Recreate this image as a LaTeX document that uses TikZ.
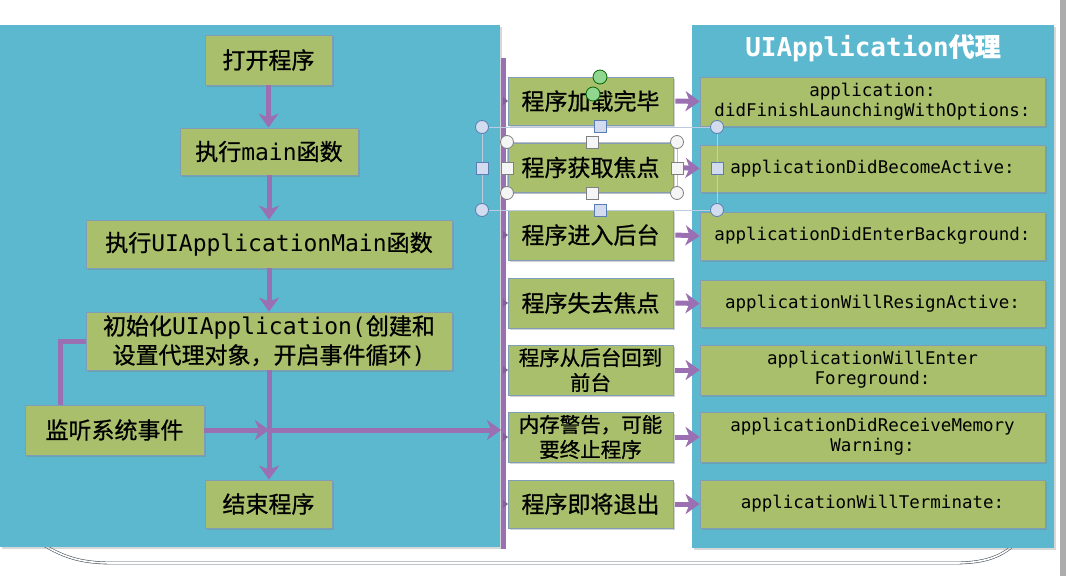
\documentclass[tikz,border=0pt]{standalone}
\usepackage{fontspec}
\setmainfont{DejaVu Sans Mono}
\newfontfamily\cjk{Noto Sans CJK SC}[FakeBold=0.8]
\usetikzlibrary{arrows.meta,shadows}
\definecolor{panel}{HTML}{5BB8CE}
\definecolor{boxg}{HTML}{A9BF6B}
\definecolor{boxedge}{HTML}{7F9DB8}
\definecolor{arr}{HTML}{9A70B2}
\definecolor{curlc}{HTML}{4A5560}
\definecolor{hblue}{HTML}{5A7DB5}
\definecolor{hfill}{HTML}{D3DCEF}
\tikzset{
  panelbox/.style={fill=panel, draw=none, drop shadow={shadow xshift=1.5pt, shadow yshift=-1.5pt, opacity=0.3}},
  gbox/.style={fill=boxg, draw=boxedge, line width=0.8pt, inner sep=2pt, align=center,
     drop shadow={shadow xshift=1.5pt, shadow yshift=-2pt, opacity=0.35}},
  lbox/.style={gbox, font=\fontsize{23}{29}\selectfont},
  mbox/.style={gbox, minimum width=165pt, font=\fontsize{23}{25}\selectfont\cjk},
  mbox2/.style={gbox, minimum width=165pt, font=\fontsize{20.5}{25}\selectfont\cjk},
  rbox/.style={gbox, minimum width=345pt, font=\fontsize{17.5}{20}\selectfont},
  arrline/.style={draw=arr, line width=5pt},
  arrow/.style={arrline, -{Stealth[length=14pt,width=20pt,inset=4pt]}},
  curl/.style={draw=curlc, line width=0.6pt, double=white, double distance=1.6pt},
  hcirc/.style={circle, fill=hfill, draw=hblue, line width=0.8pt, minimum size=13pt, inner sep=0pt},
  hsq/.style={rectangle, fill=hfill, draw=hblue, line width=0.8pt, minimum size=12pt, inner sep=0pt},
  wcirc/.style={circle, fill=white!92!gray, draw=gray, line width=0.8pt, minimum size=13pt, inner sep=0pt},
  wsq/.style={rectangle, fill=white!92!gray, draw=gray, line width=0.8pt, minimum size=12pt, inner sep=0pt},
  gcirc/.style={circle, fill=green!45!gray!60, draw=green!40!black, line width=0.8pt, minimum size=14pt, inner sep=0pt},
}
\begin{document}
\begin{tikzpicture}[x=1pt,y=-1pt]
\useasboundingbox (0,0) rectangle (1066,576);
\fill[white] (0,0) rectangle (1066,576);
% page decorations
\draw[curl] (15,0) -- (15,25);
\draw[curl] (1043,0) -- (1043,25);
\fill[gray!65] (1060,0) rectangle (1066,576);
\draw[curl] (40,543) .. controls (62,556) and (78,563) .. (112,563) -- (955,563) .. controls (988,563) and (1002,555) .. (1014,545);
% panels
\path[panelbox] (0,25) rectangle (500,547);
\path[panelbox] (692,25) rectangle (1054,548);
\node[text=white, font=\fontsize{26}{28}\selectfont\bfseries] (title) at (873,48) {UIApplication{\cjk 代理}};
% left flow
\node[lbox, minimum width=127pt, minimum height=50pt] (open) at (268.5,60) {\cjk 打开程序};
\node[lbox, minimum width=178pt, minimum height=47pt] (mainf) at (269,151.5) {{\cjk 执行}main{\cjk 函数}};
\node[lbox, minimum width=366pt, minimum height=48pt] (uimain) at (269,244) {{\cjk 执行}UIApplicationMain{\cjk 函数}};
\node[lbox, minimum width=366pt, minimum height=58pt] (init) at (269,341) {{\cjk 初始化}UIApplication({\cjk 创建和}\\{\cjk 设置代理对象，开启事件循环})};
\node[lbox, minimum width=179pt, minimum height=50pt] (listen) at (114.5,430) {\cjk 监听系统事件};
\node[lbox, minimum width=127pt, minimum height=48pt] (endp) at (268.5,504) {\cjk 结束程序};
\coordinate (cross) at (init.south |- listen.east);
\coordinate (barhit) at (501,430);
\coordinate (lup) at (60,405);
\coordinate (bartop) at (503,58);
\coordinate (barbot) at (503,549);
\draw[arrow] (open.south) -- (open.south |- mainf.north);
\draw[arrow] (mainf.south) -- (mainf.south |- uimain.north);
\draw[arrow] (uimain.south) -- (uimain.south |- init.north);
\draw[arrow] (init.south) -- (init.south |- endp.north);
\draw[arrline] (lup) |- (init.west);
\draw[arrow] (listen.east) -- (cross);
\draw[arrow] (cross) -- (barhit);
\draw[arrline] (bartop) -- (barbot);
% middle column
\node[mbox, minimum height=48pt] (m1) at (590.5,101) {程序加载完毕};
\node[mbox, minimum height=49pt] (m2) at (590.5,167.5) {程序获取焦点};
\node[mbox, minimum height=50pt] (m3) at (590.5,235) {程序进入后台};
\node[mbox, minimum height=50pt] (m4) at (590.5,303) {程序失去焦点};
\node[mbox2, minimum height=50pt] (m5) at (590.5,370) {程序从后台回到\\前台};
\node[mbox2, minimum height=50pt] (m6) at (590.5,437) {内存警告，可能\\要终止程序};
\node[mbox, minimum height=48pt] (m7) at (590.5,504) {程序即将退出};
\foreach \m in {m1,m2,m3,m4,m5,m6,m7}{
  \fill[arr!85!black] (bartop |- \m.west) ++(0,-4) -- ++(5,4) -- ++(-5,4) -- cycle;
}
% right column
\node[rbox, minimum height=49pt] (r1) at (872.5,101.5) {application:\\didFinishLaunchingWithOptions:};
\node[rbox, minimum height=47pt] (r2) at (872.5,168.5) {applicationDidBecomeActive:};
\node[rbox, minimum height=48pt] (r3) at (872.5,236) {applicationDidEnterBackground:};
\node[rbox, minimum height=47pt] (r4) at (872.5,303.5) {applicationWillResignActive:};
\node[rbox, minimum height=50pt] (r5) at (872.5,370) {applicationWillEnter\\Foreground:};
\node[rbox, minimum height=50pt] (r6) at (872.5,437) {applicationDidReceiveMemory\\Warning:};
\node[rbox, minimum height=48pt] (r7) at (872.5,504) {applicationWillTerminate:};
\foreach \i in {1,...,7}{
  \draw[arrow] (m\i.east) ++(2,0) -- (r\i.west);
}
% selection handles
\draw[hblue!40, line width=0.6pt] (482,127) rectangle (717,210);
\draw[gray!50, line width=0.6pt] (507,142) rectangle (677,193);
\node[gcirc] (g1) at (600,77) {};
\node[gcirc] (g2) at (593,94) {};
\node[hcirc] (h1) at (482,127) {};
\node[hcirc] (h2) at (482,210) {};
\node[hcirc] (h3) at (717,127) {};
\node[hcirc] (h4) at (717,210) {};
\node[hsq] (s1) at (482,168) {};
\node[hsq] (s2) at (717,168) {};
\node[hsq] (s3) at (600,126) {};
\node[hsq] (s4) at (600,210) {};
\node[wcirc] (w1) at (507,142) {};
\node[wcirc] (w2) at (677,142) {};
\node[wcirc] (w3) at (507,193) {};
\node[wcirc] (w4) at (677,193) {};
\node[wsq] (q1) at (507,168) {};
\node[wsq] (q2) at (677,168) {};
\node[wsq] (q3) at (592,142) {};
\node[wsq] (q4) at (592,193) {};
\end{tikzpicture}
\end{document}
